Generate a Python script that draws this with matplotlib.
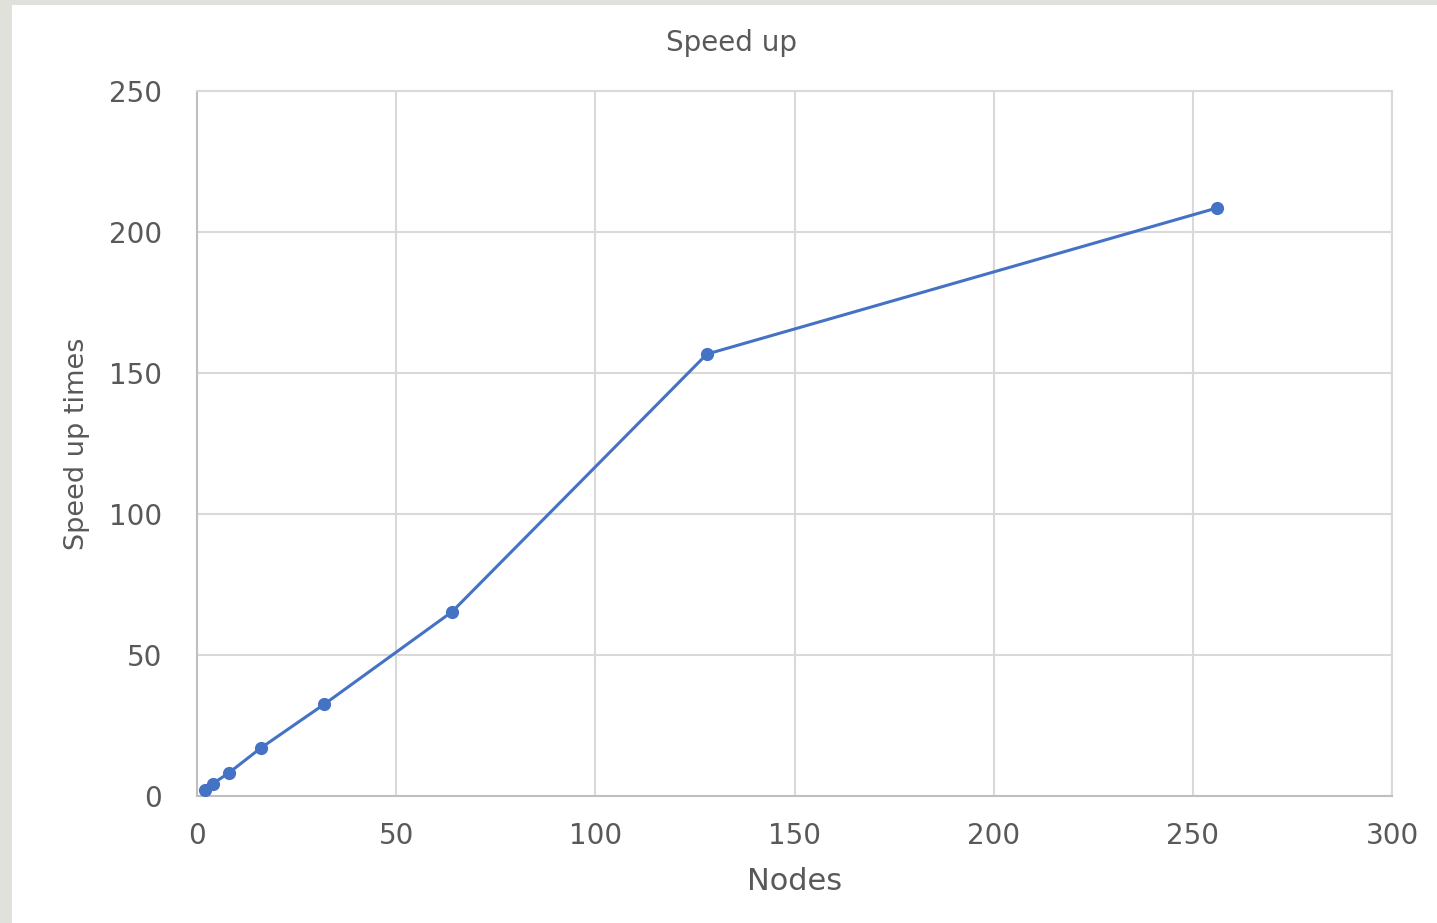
import matplotlib.pyplot as plt
from matplotlib.patches import Rectangle

nodes = [2, 4, 8, 16, 32, 64, 128, 256]
speedup = [2.1, 4.4, 8.2, 17.0, 32.6, 65.3, 156.7, 208.5]

x_ticks = [0, 50, 100, 150, 200, 250, 300]
y_ticks = [0, 50, 100, 150, 200, 250]

text_color = "#595959"
grid_color = "#d9d9d9"
line_color = "#4472c4"

plt.rcParams["font.family"] = ["DejaVu Sans"]

fig = plt.figure(figsize=(14.37, 9.23), dpi=100, facecolor="#e1e1dc")
# white chart area inside the grey window edge
fig.patches.append(Rectangle((12 / 1437, 0), 1, 1 - 5 / 923, transform=fig.transFigure,
                             facecolor="white", edgecolor="none", zorder=-10))

ax = fig.add_axes([197 / 1437, 127 / 923, 1195 / 1437, 705 / 923])
ax.set_facecolor("white")

ax.plot(nodes, speedup, color=line_color, linewidth=2.2, marker="o",
        markersize=9.5, markeredgewidth=0, zorder=3)

ax.set_xlim(0, 300)
ax.set_ylim(0, 250)
ax.set_xticks(x_ticks)
ax.set_yticks(y_ticks)
ax.grid(True, color=grid_color, linewidth=1.5)
ax.set_axisbelow(True)
for side in ax.spines.values():
    side.set_color(grid_color)
    side.set_linewidth(1.5)
ax.spines["left"].set_color("#bfbfbf")
ax.spines["bottom"].set_color("#bfbfbf")

ax.tick_params(length=0, labelsize=20, labelcolor=text_color)
ax.tick_params(axis="x", pad=19)
ax.tick_params(axis="y", pad=25)

ax.set_xlabel("Nodes", fontsize=22, color=text_color, labelpad=12)
ax.set_ylabel("Speed up times", fontsize=19.5, color=text_color, labelpad=14)
fig.text(732 / 1437, 1 - 43 / 923, "Speed up", fontsize=20, color=text_color,
         ha="center", va="center")

fig.savefig("out.png", dpi=100, facecolor=fig.get_facecolor())
